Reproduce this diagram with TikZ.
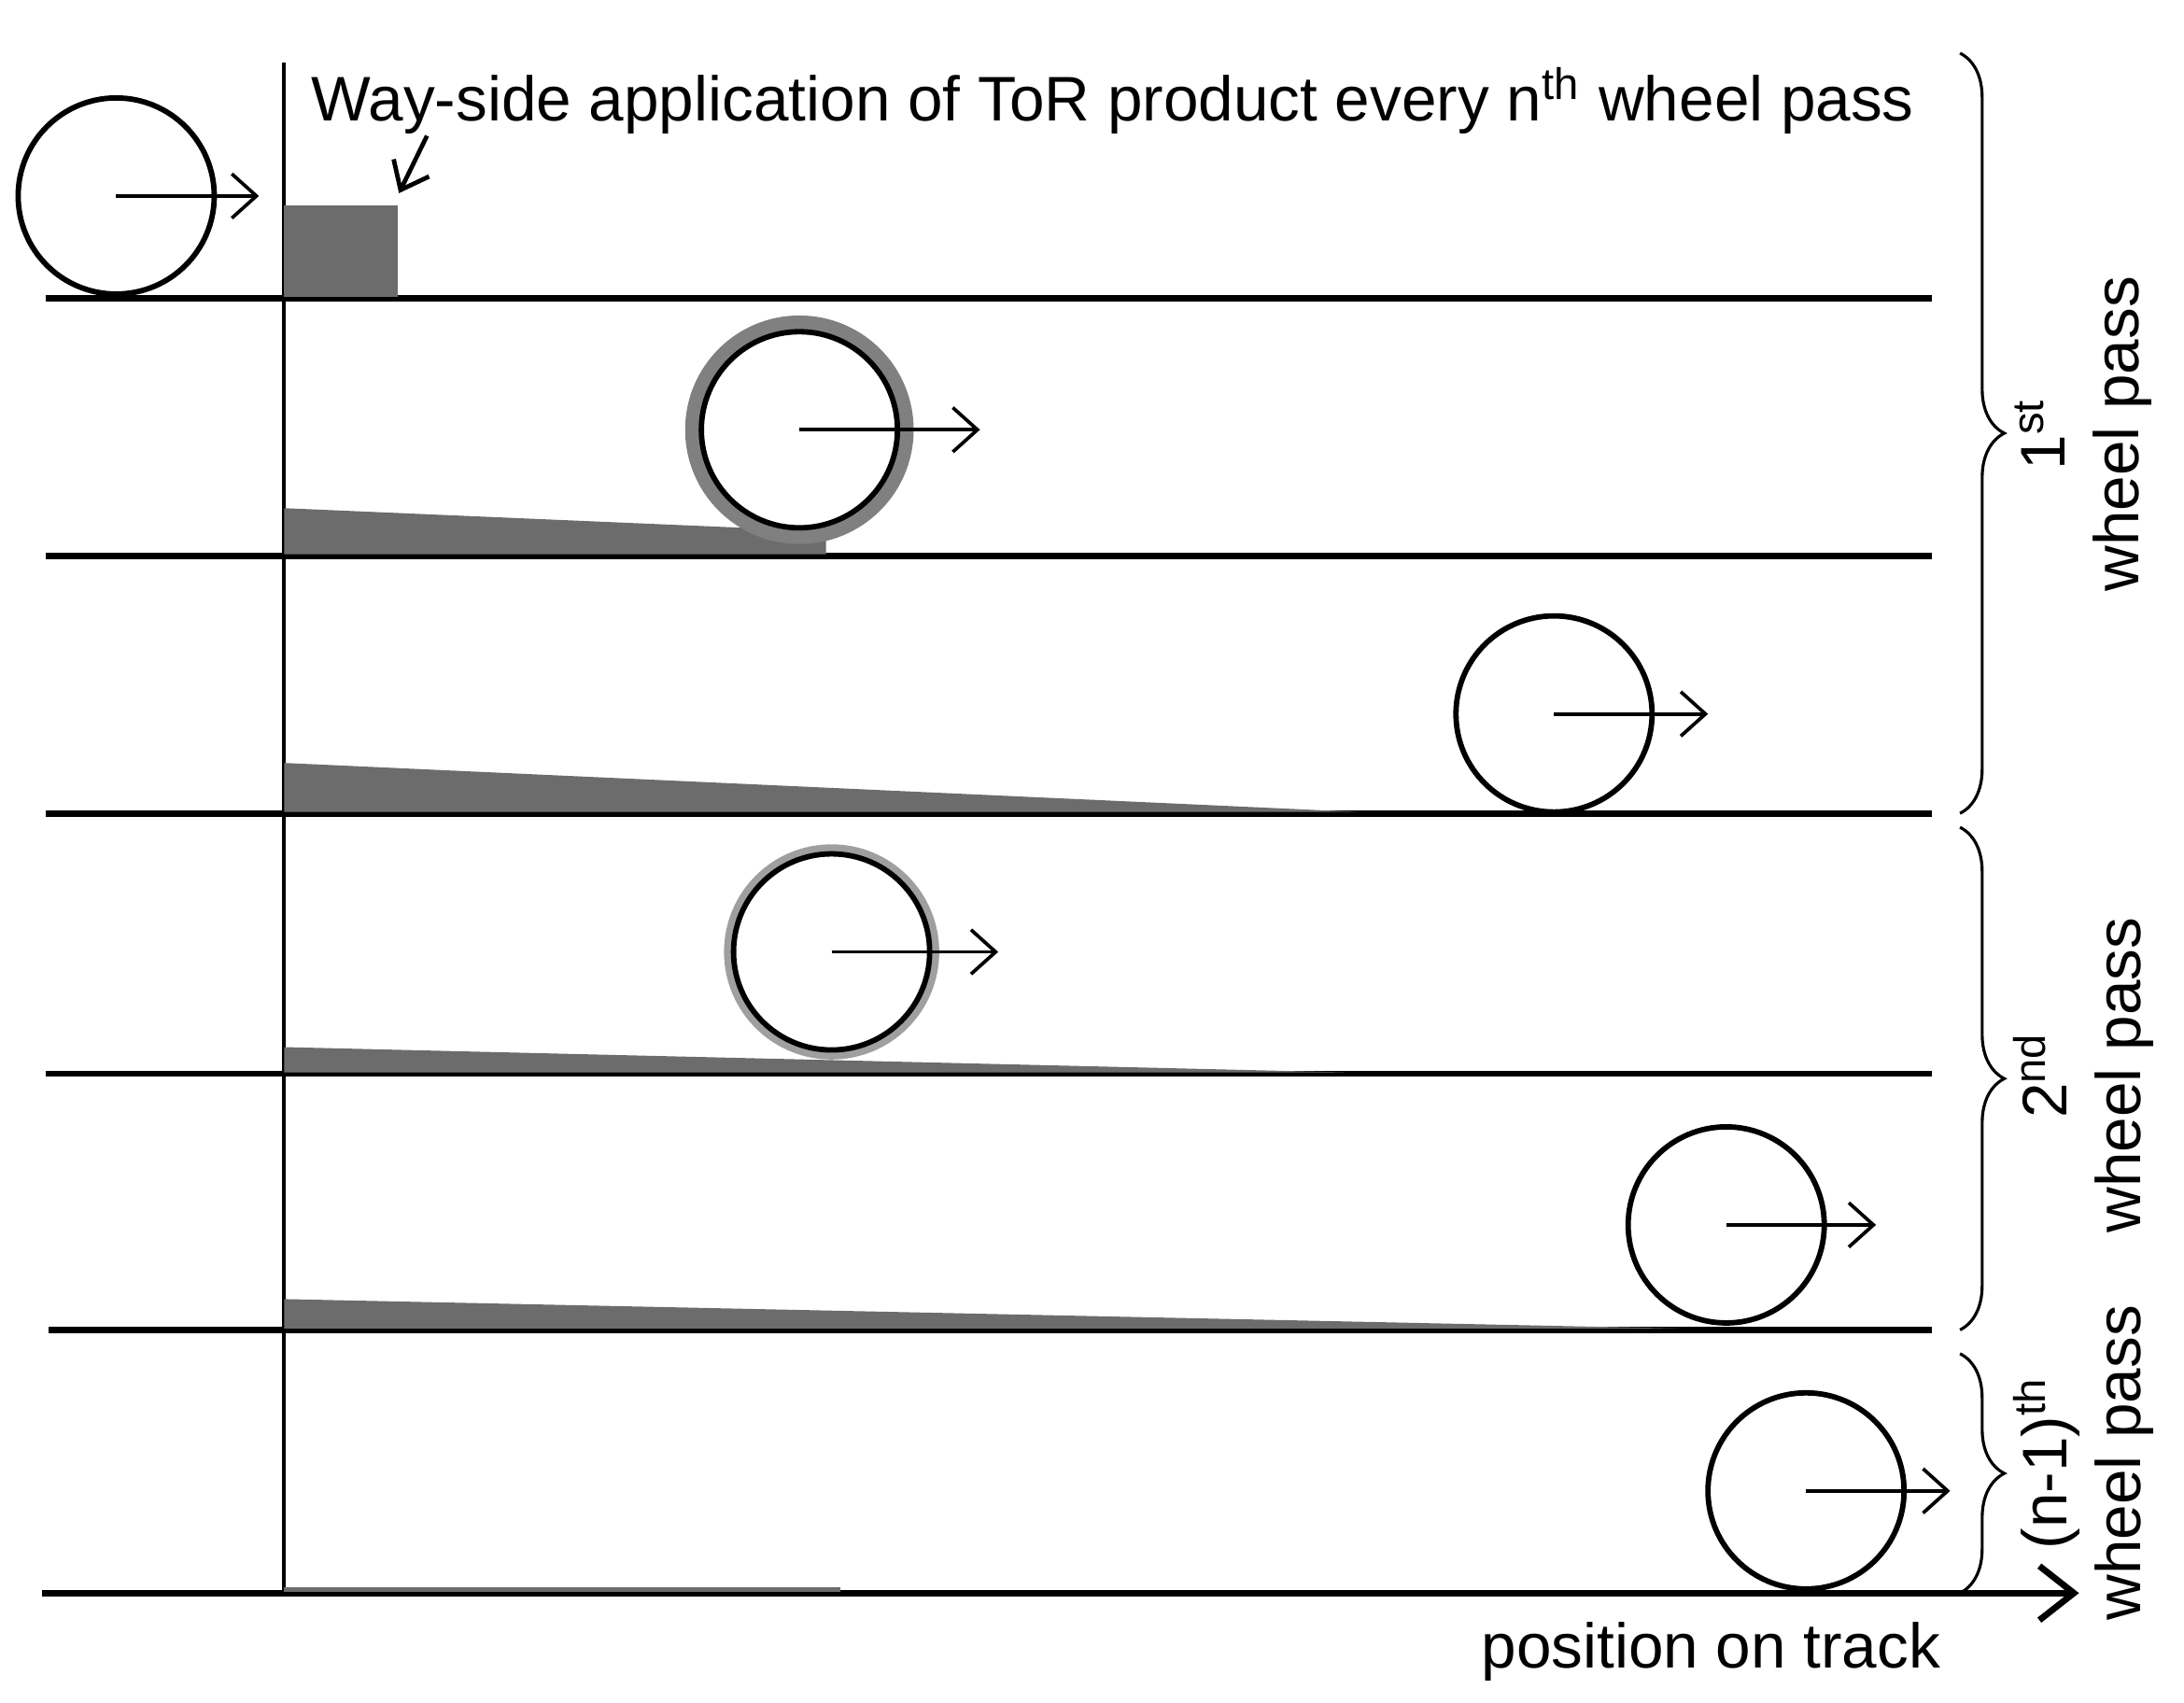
\documentclass[tikz,border=0pt]{standalone}
\usepackage{fontspec}
\setmainfont{Liberation Sans}
\usetikzlibrary{decorations.pathreplacing,arrows.meta}
\begin{document}
\begin{tikzpicture}[x=0.01cm,y=-0.01cm,
  rail/.style={line width=1.3pt},
  wheel/.style={line width=1.1pt},
  film/.style={fill=gray!85!black,draw=none},
  mv/.style={-{Straight Barb[length=5pt,width=9pt]},line width=0.7pt},
  brace/.style={decorate,decoration={brace,amplitude=9pt},line width=0.6pt},
  lbl/.style={font=\fontsize{12.8}{15}\selectfont,align=center}]
\useasboundingbox (0,0) rectangle (1560,1216);
% vertical line
\draw[line width=0.8pt] (203,45) coordinate (v1) -- (203,1138) coordinate (v2);
% rails
\foreach \y/\n in {213/r1,397/r2,581/r3,767/r4}{\draw[rail] (33,\y) coordinate (\n a) -- (1380,\y) coordinate (\n b);}
\draw[rail] (35,950) coordinate (r5a) -- (1380,950) coordinate (r5b);
\draw[rail,-{Straight Barb[length=7pt,width=11pt]}] (30,1138) coordinate (axa) -- (1485,1138) coordinate (axb);
% films
\fill[film] (203,147) rectangle (284,212);
\fill[film] (203,363) -- (530,377) -- (590,385) -- (590,396) -- (203,396) -- cycle;
\fill[film] (203,545) -- (970,580) -- (203,580) -- cycle;
\fill[film] (203,748) -- (960,766) -- (203,766) -- cycle;
\fill[film] (203,928) -- (1200,949) -- (203,949) -- cycle;
\fill[film] (203,1134) rectangle (600,1137);
% rings
\draw[gray,line width=3.2pt] (571,307) circle (76);
\draw[gray!75,line width=2.2pt] (594,680) circle (73);
% wheels
\foreach \x/\y/\n/\e in {83/140/w1/185,571/307/w2/700,1110/510/w3/1220,594/680/w4/713,1233/875/w5/1340,1290/1065/w6/1393}{
  \node[wheel,draw,circle,minimum size=1.4cm,inner sep=0] (\n) at (\x,\y) {};
  \coordinate (\n e) at (\e,\y);
  \draw[mv] (\n.center) -- (\n e);
}
% title
\node[lbl,anchor=west] (title) at (210,72) {Way-side application of ToR product every n\textsuperscript{th} wheel pass};
\coordinate (tip) at (285,138);
\draw[-{Straight Barb[length=5pt,width=8pt]},line width=0.9pt] (305,97) -- (tip);
% braces
\draw[brace] (1400,38) -- (1400,581);
\draw[brace] (1400,591) -- (1400,950);
\draw[brace] (1400,967) -- (1400,1138);
\node[lbl,rotate=90] (l1) at (1488,310) {1\textsuperscript{st}\\wheel pass};
\node[lbl,rotate=90] (l2) at (1488,768) {2\textsuperscript{nd}\\wheel pass};
\node[lbl,rotate=90] (l3) at (1488,1045) {(n-1)\textsuperscript{th}\\wheel pass};
\node[lbl] (pos) at (1222,1180) {position on track};
\end{tikzpicture}
\end{document}
